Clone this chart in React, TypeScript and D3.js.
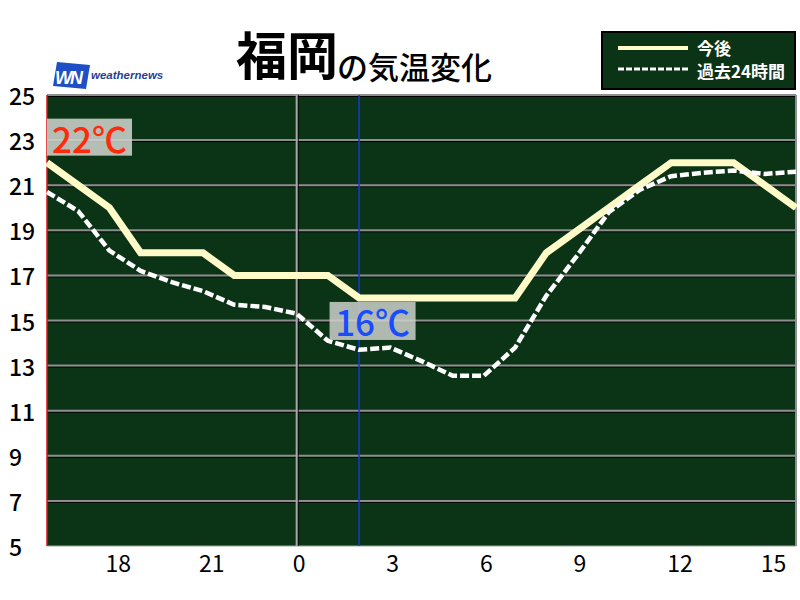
import React from "react";
import * as d3 from "d3";

// hour of day for each point (16:00 yesterday → 16:00 today)
const hours = [16, 17, 18, 19, 20, 21, 22, 23, 0, 1, 2, 3, 4, 5, 6, 7, 8, 9, 10, 11, 12, 13, 14, 15, 16];
// 今後 (forecast) temperatures
const forecast = [22, 21, 20, 18, 18, 18, 17, 17, 17, 17, 16, 16, 16, 16, 16, 16, 18, 19, 20, 21, 22, 22, 22, 21, 20];
// 過去24時間 temperatures
const past24 = [20.7, 19.85, 18.1, 17.2, 16.7, 16.3, 15.7, 15.6, 15.3, 14.1, 13.7, 13.8, 13.2, 12.55, 12.55, 13.8, 16.1, 17.9, 19.8, 20.8, 21.4, 21.55, 21.65, 21.5, 21.6];
const yTicks = [5, 7, 9, 11, 13, 15, 17, 19, 21, 23, 25];
const xTickHours = [18, 21, 0, 3, 6, 9, 12, 15];
const currentIndex = 10;
const legendLabels = ["今後", "過去24時間"];
const titleMain = "福岡";
const titleSub = "の気温変化";

const W = 800;
const H = 600;
const M = { left: 47, right: 4, top: 95, bottom: 54 };
const FONT = "'Noto Sans CJK JP', 'Noto Sans', sans-serif";

export default function App() {
  const x = d3.scaleLinear().domain([0, hours.length - 1]).range([M.left, W - M.right]);
  const y = d3.scaleLinear().domain([5, 25]).range([H - M.bottom, M.top]);
  const line = d3
    .line<number>()
    .x((_, i) => x(i))
    .y((d) => y(d));

  const x0 = x(0);
  const x1 = x(hours.length - 1);
  const midnightIdx = hours.indexOf(0);
  const tickIdx = xTickHours.map((h) => hours.findIndex((hh, i) => hh === h && (h !== 16 || i > 0)));

  const startVal = forecast[0];
  const curVal = forecast[currentIndex];

  return (
    <svg
      width={W}
      height={H}
      style={{ position: "absolute", left: 0, top: 0, background: "#fff" }}
      fontFamily={FONT}
    >
      {/* title */}
      <text x={236} y={75} fontSize={51} fontWeight={700} fill="#000">
        {titleMain}
      </text>
      <text x={337} y={79} fontSize={31} fontWeight={500} fill="#000">
        {titleSub}
      </text>

      {/* logo */}
      <g>
        <path d="M57,62 L90,65 L86,89 L53,86 Z" fill="#1f4fc4" />
        <text x={55} y={84} fontSize={18} fontWeight={900} fontStyle="italic" fill="#fff" letterSpacing={-2} fontFamily="'Liberation Sans', sans-serif">
          WN
        </text>
        <text x={91} y={79} fontSize={11.5} fontWeight={700} fontStyle="italic" fill="#1f3f95" fontFamily="'Liberation Sans', sans-serif">
          weathernews
        </text>
      </g>

      {/* legend */}
      <g>
        <rect x={602} y={32} width={193} height={57} fill="#0b3316" stroke="#000" strokeWidth={2} />
        <line x1={618} x2={688} y1={48} y2={48} stroke="#fffbc8" strokeWidth={4} />
        <text x={697} y={47} fill="#fff" fontSize={17} fontWeight={700} dominantBaseline="central">
          {legendLabels[0]}
        </text>
        <line x1={618} x2={688} y1={69} y2={69} stroke="#fff" strokeWidth={3} strokeDasharray="6 2" />
        <text x={697} y={70} fill="#fff" fontSize={17} fontWeight={700} dominantBaseline="central">
          {legendLabels[1]}
        </text>
      </g>

      {/* plot background */}
      <rect x={x0} y={y(25)} width={x1 - x0} height={y(5) - y(25)} fill="#0b3316" />

      {/* gridlines */}
      {yTicks
        .filter((v) => v !== 5)
        .map((v) => (
          <g key={v}>
            <line x1={x0} x2={x1} y1={y(v) + 1.5} y2={y(v) + 1.5} stroke="#000" strokeWidth={1} />
            <line x1={x0} x2={x1} y1={y(v)} y2={y(v)} stroke="#8e8e8e" strokeWidth={2} />
          </g>
        ))}
      <line x1={x0} x2={x1} y1={y(5)} y2={y(5)} stroke="#9aa89a" strokeWidth={1} />
      <line x1={x1} x2={x1} y1={y(25)} y2={y(5)} stroke="#8e8e8e" strokeWidth={2} />

      {/* midnight line */}
      <line x1={x(midnightIdx) + 1.5} x2={x(midnightIdx) + 1.5} y1={y(25)} y2={y(5)} stroke="#000" strokeWidth={1} />
      <line x1={x(midnightIdx)} x2={x(midnightIdx)} y1={y(25)} y2={y(5)} stroke="#a8a8a8" strokeWidth={2} />
      {/* current time line */}
      <line x1={x(currentIndex)} x2={x(currentIndex)} y1={y(25)} y2={y(5)} stroke="#1238e0" strokeWidth={1.5} />

      {/* left border */}
      <line x1={x0} x2={x0} y1={y(25)} y2={y(5)} stroke="#e01010" strokeWidth={1.5} />

      {/* series */}
      <path d={line(forecast) || ""} fill="none" stroke="#fffbc8" strokeWidth={7} strokeLinejoin="miter" />
      <path d={line(past24) || ""} fill="none" stroke="#fff" strokeWidth={4.5} strokeDasharray="9 3" />

      {/* value labels */}
      <g>
        <rect x={x(0)} y={y(startVal) - 44} width={85} height={37} fill="#cdd1cb" fillOpacity={0.88} />
        <text x={x(0) + 42.5} y={y(startVal) - 25} fill="#ff2a0a" fontSize={35} fontWeight={500} textAnchor="middle" dominantBaseline="central">
          {`${startVal}℃`}
        </text>
      </g>
      <g>
        <rect x={x(currentIndex) - 29.5} y={y(curVal) + 4} width={86} height={38} fill="#cdd1cb" fillOpacity={0.85} />
        <text x={x(currentIndex) + 13.5} y={y(curVal) + 23} fill="#1a4cff" fontSize={35} fontWeight={500} textAnchor="middle" dominantBaseline="central">
          {`${curVal}℃`}
        </text>
      </g>

      {/* y axis labels */}
      {yTicks.map((v) => (
        <text key={v} x={9} y={y(v)} fontSize={23} fontWeight={500} fill="#000" dominantBaseline="central">
          {v}
        </text>
      ))}

      {/* x axis labels */}
      {xTickHours.map((h, k) => (
        <text key={h} x={x(tickIdx[k]) - 4} y={562} fontSize={23} fill="#000" dominantBaseline="central">
          {h}
        </text>
      ))}
    </svg>
  );
}
